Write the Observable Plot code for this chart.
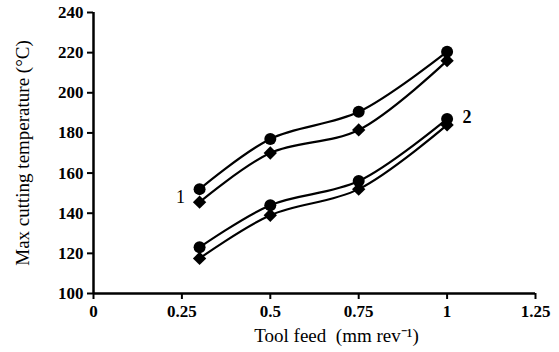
<!DOCTYPE html>
<html>
<head>
<meta charset="utf-8">
<script src="https://cdn.jsdelivr.net/npm/d3@7"></script>
<script src="https://cdn.jsdelivr.net/npm/@observablehq/plot@0.6"></script>
<style>
  html, body { margin: 0; padding: 0; background: #fff; }
  #chart svg { display: block; overflow: visible; }
</style>
</head>
<body>
<div id="chart"></div>
<script>
const feed = [0.3, 0.5, 0.75, 1];
const s1Circle = [152, 177, 190.5, 220.5];
const s1Diamond = [145.5, 170, 181.5, 216];
const s2Circle = [123, 144, 156, 187];
const s2Diamond = [117.5, 139, 152, 184];
const xTicks = [0, 0.25, 0.5, 0.75, 1, 1.25];
const yTicks = [100, 120, 140, 160, 180, 200, 220, 240];
const label1 = [{label: "1", x: 0.3, y: 148}];
const label2 = [{label: "2", x: 1, y: 188}];

const series = [
  {name: "1c", vals: s1Circle, symbol: "circle"},
  {name: "1d", vals: s1Diamond, symbol: "diamond2"},
  {name: "2c", vals: s2Circle, symbol: "circle"},
  {name: "2d", vals: s2Diamond, symbol: "diamond2"}
];
const rows = series.flatMap(s => feed.map((f, i) => ({series: s.name, symbol: s.symbol, x: f, y: s.vals[i]})));

const font = "'Liberation Serif', 'Times New Roman', serif";

const chart = Plot.plot({
  width: 559,
  height: 352,
  marginLeft: 93,
  marginRight: 24,
  marginTop: 12,
  marginBottom: 59,
  style: {fontFamily: font, fontSize: "17px", color: "#000", background: "#fff"},
  x: {domain: [0, 1.25], ticks: xTicks, tickFormat: d => String(d)},
  y: {domain: [100, 240], ticks: yTicks},
  marks: [
    Plot.ruleX([0], {strokeWidth: 2.5, stroke: "#000"}),
    Plot.ruleY([100], {strokeWidth: 2.5, stroke: "#000"}),
    Plot.axisX({ticks: xTicks, tickSize: 6, tickPadding: 5, tickFormat: d => String(d), strokeWidth: 2, fontWeight: "bold", fontSize: 17, label: null}),
    Plot.axisY({ticks: yTicks, tickSize: 6, tickPadding: 4, strokeWidth: 2, fontWeight: "bold", fontSize: 17, label: null}),
    Plot.line(rows, {x: "x", y: "y", z: "series", curve: "catmull-rom", stroke: "#000", strokeWidth: 2.2}),
    Plot.dot(rows.filter(d => d.symbol === "circle"), {x: "x", y: "y", symbol: "circle", r: 6, fill: "#000", stroke: "none"}),
    Plot.dot(rows.filter(d => d.symbol === "diamond2"), {x: "x", y: "y", symbol: "diamond2", r: 6, fill: "#000", stroke: "none"}),
    Plot.text(label1, {x: "x", y: "y", text: "label", dx: -19, fontSize: 18, fontWeight: "normal", fill: "black"}),
    Plot.text(label2, {x: "x", y: "y", text: "label", dx: 20, fontSize: 18, fontWeight: "bold", fill: "black"}),
    Plot.text(["Tool feed  (mm rev\u207B\u00B9)"], {frameAnchor: "bottom", dx: 22, dy: 48, text: d => d, fontSize: 19, fill: "black"}),
    Plot.text(["Max cutting temperature (\u00B0C)"], {frameAnchor: "left", dx: -71, rotate: -90, textAnchor: "middle", text: d => d, fontSize: 19, fill: "black"})
  ]
});
document.getElementById("chart").appendChild(chart);
</script>
</body>
</html>
